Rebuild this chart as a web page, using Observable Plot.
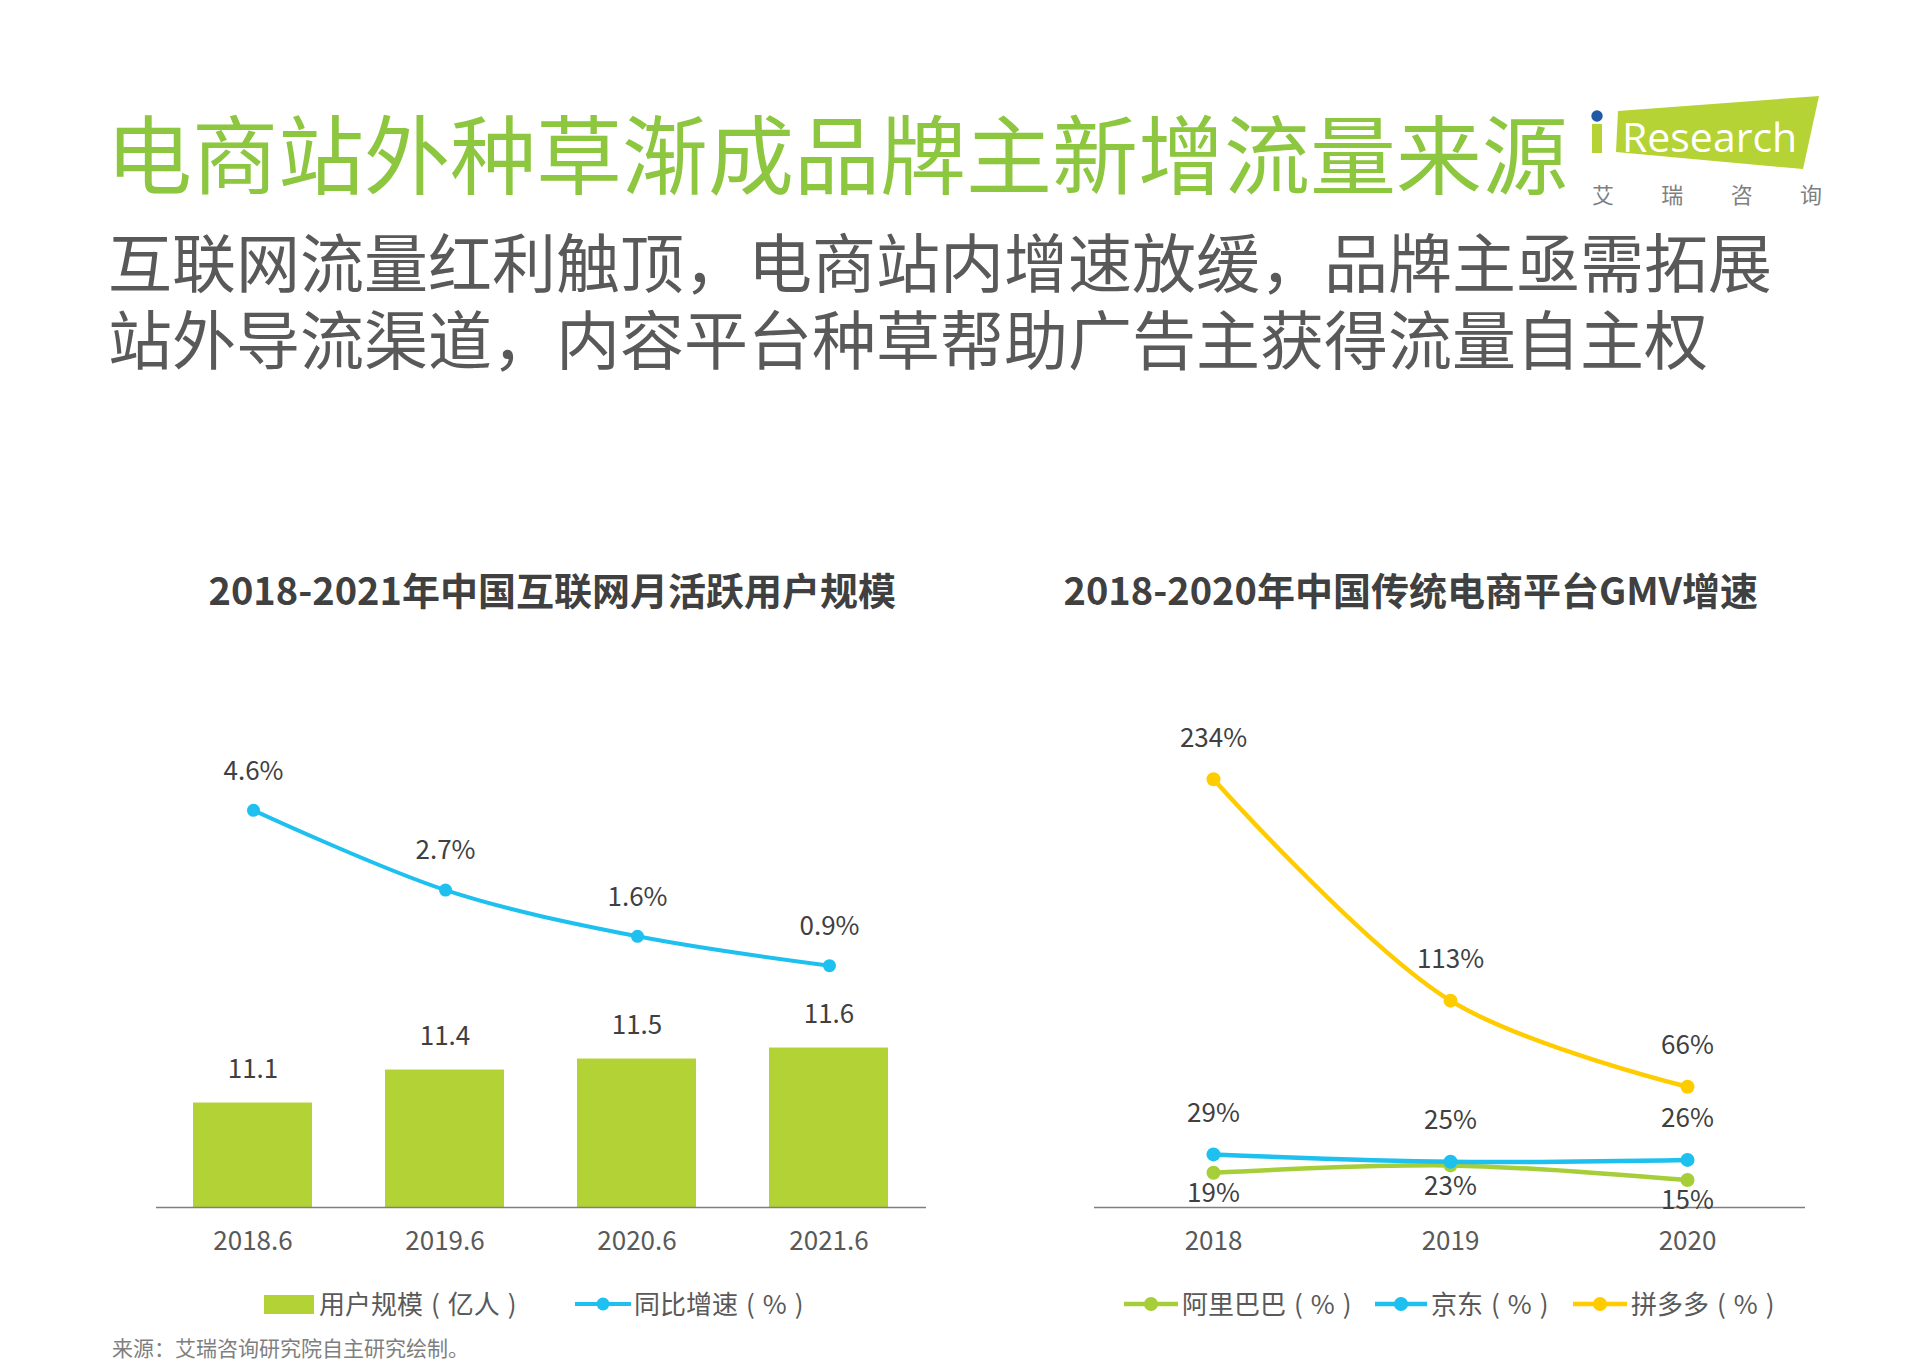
<!DOCTYPE html>
<html>
<head>
<meta charset="utf-8">
<script src="https://cdn.jsdelivr.net/npm/d3@7"></script>
<script src="https://cdn.jsdelivr.net/npm/@observablehq/plot@0.6"></script>
<style>
  html, body { margin: 0; padding: 0; background: #fff; }
  #page { position: relative; width: 1911px; height: 1372px; overflow: hidden; background: #fff;
          font-family: "Noto Sans CJK SC", "Noto Sans", sans-serif; }
  .abs { position: absolute; white-space: nowrap; line-height: 1; }
  .ctitle { font-size: 38px; font-weight: 700; color: #404040; }
  .leg { font-size: 26px; color: #595959; }
  .leg .p { margin: 0 8px; }
  .sub { font-size: 64px; color: #595959; font-family: "Liberation Sans", "Noto Sans CJK SC", sans-serif; }
  .plotbox { position: absolute; }
  .plotbox svg { max-width: none !important; }
</style>
</head>
<body>
<div id="page">
  <div class="abs" style="left:106px; top:108px; font-size:86px; color:#8DC63F;">电商站外种草渐成品牌主新增流量来源</div>
  <div class="abs sub" style="left:108px; top:233px;">互联网流量红利触顶，电商站内增速放缓，品牌主亟需拓展</div>
  <div class="abs sub" style="left:108px; top:310px;">站外导流渠道，内容平台种草帮助广告主获得流量自主权</div>

  <svg class="abs" style="left:1580px; top:90px;" width="260" height="125" viewBox="1580 90 260 125">
    <polygon points="1618,111 1819,96 1803,169 1616,152" fill="#B5D334"/>
    <rect x="1592" y="124" width="10" height="29" fill="#B5D334"/>
    <circle cx="1597" cy="116" r="5.7" fill="#1F5AA6"/>
    <text x="1622" y="152" font-family="'Open Sans', sans-serif" font-size="41" fill="#fff">Research</text>
    <text x="1592" y="203" font-family="'Noto Sans CJK SC'" font-size="22" fill="#808080" textLength="230" lengthAdjust="spacing">艾瑞咨询</text>
  </svg>

  <div class="abs ctitle" id="t1" style="top:570px;">2018-2021年中国互联网月活跃用户规模</div>
  <div class="abs ctitle" id="t2" style="top:570px;">2018-2020年中国传统电商平台GMV增速</div>

  <div class="plotbox" id="leftBars" style="left:0px; top:700px;"></div>
  <div class="plotbox" id="leftLine" style="left:0px; top:700px;"></div>
  <div class="plotbox" id="right" style="left:960px; top:700px;"></div>

  <!-- legends -->
  <svg class="abs" style="left:264px; top:1295px;" width="50" height="19"><rect width="50" height="19" fill="#B2D235"/></svg>
  <div class="abs leg" style="left:319px; top:1290px;">用户规模<span class="p">(</span>亿人<span class="p">)</span></div>
  <svg class="abs" style="left:575px; top:1294px;" width="56" height="20"><line x1="0" y1="10" x2="56" y2="10" stroke="#1DC0EE" stroke-width="4"/><circle cx="28" cy="10" r="6.5" fill="#1DC0EE"/></svg>
  <div class="abs leg" style="left:634px; top:1290px;">同比增速<span class="p">(</span>%<span class="p">)</span></div>

  <svg class="abs" style="left:1124px; top:1294px;" width="54" height="20"><line x1="0" y1="10" x2="54" y2="10" stroke="#A6CE39" stroke-width="4.5"/><circle cx="27" cy="10" r="7" fill="#A6CE39"/></svg>
  <div class="abs leg" style="left:1182px; top:1290px;">阿里巴巴<span class="p">(</span>%<span class="p">)</span></div>
  <svg class="abs" style="left:1375px; top:1294px;" width="52" height="20"><line x1="0" y1="10" x2="52" y2="10" stroke="#1DC0EE" stroke-width="4.5"/><circle cx="26" cy="10" r="7" fill="#1DC0EE"/></svg>
  <div class="abs leg" style="left:1431px; top:1290px;">京东<span class="p">(</span>%<span class="p">)</span></div>
  <svg class="abs" style="left:1573px; top:1294px;" width="54" height="20"><line x1="0" y1="10" x2="54" y2="10" stroke="#FFCC00" stroke-width="4.5"/><circle cx="27" cy="10" r="7" fill="#FFCC00"/></svg>
  <div class="abs leg" style="left:1631px; top:1290px;">拼多多<span class="p">(</span>%<span class="p">)</span></div>

  <div class="abs" style="left:112px; top:1337px; font-size:21px; color:#7f7f7f;">来源：艾瑞咨询研究院自主研究绘制。</div>
</div>

<script>
// ---- data ----
const months = ["2018.6", "2019.6", "2020.6", "2021.6"];
const users = [11.1, 11.4, 11.5, 11.6];          // 用户规模（亿人）
const growth = [4.6, 2.7, 1.6, 0.9];             // 同比增速（%）

const years = ["2018", "2019", "2020"];
const alibaba = [19, 23, 15];                     // 阿里巴巴（%）
const jd = [29, 25, 26];                          // 京东（%）
const pdd = [234, 113, 66];                       // 拼多多（%）

// ---- styles ----
const FONT = "'Noto Sans CJK SC', 'Noto Sans', sans-serif";
const C_BAR = "#B2D235", C_BLUE = "#1DC0EE", C_ALI = "#A6CE39", C_PDD = "#FFCC00";
const LABEL = "#404040", AXIS = "#595959";
const baseStyle = {fontFamily: FONT, fontSize: "26px", background: "transparent", overflow: "visible"};

const barRows = months.map((m, i) => ({m, v: users[i]}));
const growthRows = months.map((m, i) => ({m, v: growth[i]}));
const BASE = 10.15;

const leftCommon = {width: 960, height: 560, marginLeft: 156, marginRight: 34, marginTop: 0, marginBottom: 53};

const leftBars = Plot.plot({
  ...leftCommon,
  style: baseStyle,
  x: {type: "band", domain: months, paddingInner: 0.38, paddingOuter: 0.19, label: null},
  y: {domain: [BASE, 14.76], axis: null},
  marks: [
    Plot.barY(barRows, {x: "m", y1: () => BASE, y2: "v", fill: C_BAR}),
    Plot.ruleY([BASE], {stroke: "#7f7f7f", strokeWidth: 1.5}),
    Plot.axisX({tickSize: 0, tickPadding: 24, fontSize: 26, fill: AXIS, label: null}),
    Plot.text(barRows, {x: "m", y: "v", text: d => d.v.toFixed(1), dy: -33, fontSize: 26, fill: LABEL})
  ]
});
document.getElementById("leftBars").appendChild(leftBars);

const leftLine = Plot.plot({
  ...leftCommon,
  style: baseStyle,
  x: {type: "point", domain: months, padding: 0.5, axis: null},
  y: {domain: [-4.857, 7.214], axis: null},
  marks: [
    Plot.line(growthRows, {x: "m", y: "v", stroke: C_BLUE, strokeWidth: 4, curve: "catmull-rom"}),
    Plot.dot(growthRows, {x: "m", y: "v", r: 6.5, fill: C_BLUE}),
    Plot.text(growthRows, {x: "m", y: "v", text: d => d.v.toFixed(1) + "%", dy: -39, fontSize: 26, fill: LABEL})
  ]
});
document.getElementById("leftLine").appendChild(leftLine);

const mk = arr => years.map((y, i) => ({y, v: arr[i]}));
const aliRows = mk(alibaba), jdRows = mk(jd), pddRows = mk(pdd);
const series = (rows, color, dy) => [
  Plot.line(rows, {x: "y", y: "v", stroke: color, strokeWidth: 4.5, curve: "catmull-rom"}),
  Plot.dot(rows, {x: "y", y: "v", r: 7, fill: color}),
  Plot.text(rows, {x: "y", y: "v", text: d => d.v + "%", dy, fontSize: 26, fill: LABEL})
];

const right = Plot.plot({
  width: 951, height: 560, marginLeft: 134, marginRight: 106, marginTop: 0, marginBottom: 53,
  style: baseStyle,
  x: {type: "point", domain: years, padding: 0.5, label: null},
  y: {domain: [0, 277], axis: null},
  marks: [
    Plot.ruleY([0], {stroke: "#7f7f7f", strokeWidth: 1.5}),
    Plot.axisX({tickSize: 0, tickPadding: 24, fontSize: 26, fill: AXIS, label: null}),
    ...series(aliRows, C_ALI, 21),
    ...series(jdRows, C_BLUE, -41),
    ...series(pddRows, C_PDD, -41)
  ]
});
document.getElementById("right").appendChild(right);

// center chart titles
const t1 = document.getElementById("t1"), t2 = document.getElementById("t2");
t1.style.left = (552 - t1.offsetWidth / 2) + "px";
t2.style.left = (1411 - t2.offsetWidth / 2) + "px";
</script>
</body>
</html>
